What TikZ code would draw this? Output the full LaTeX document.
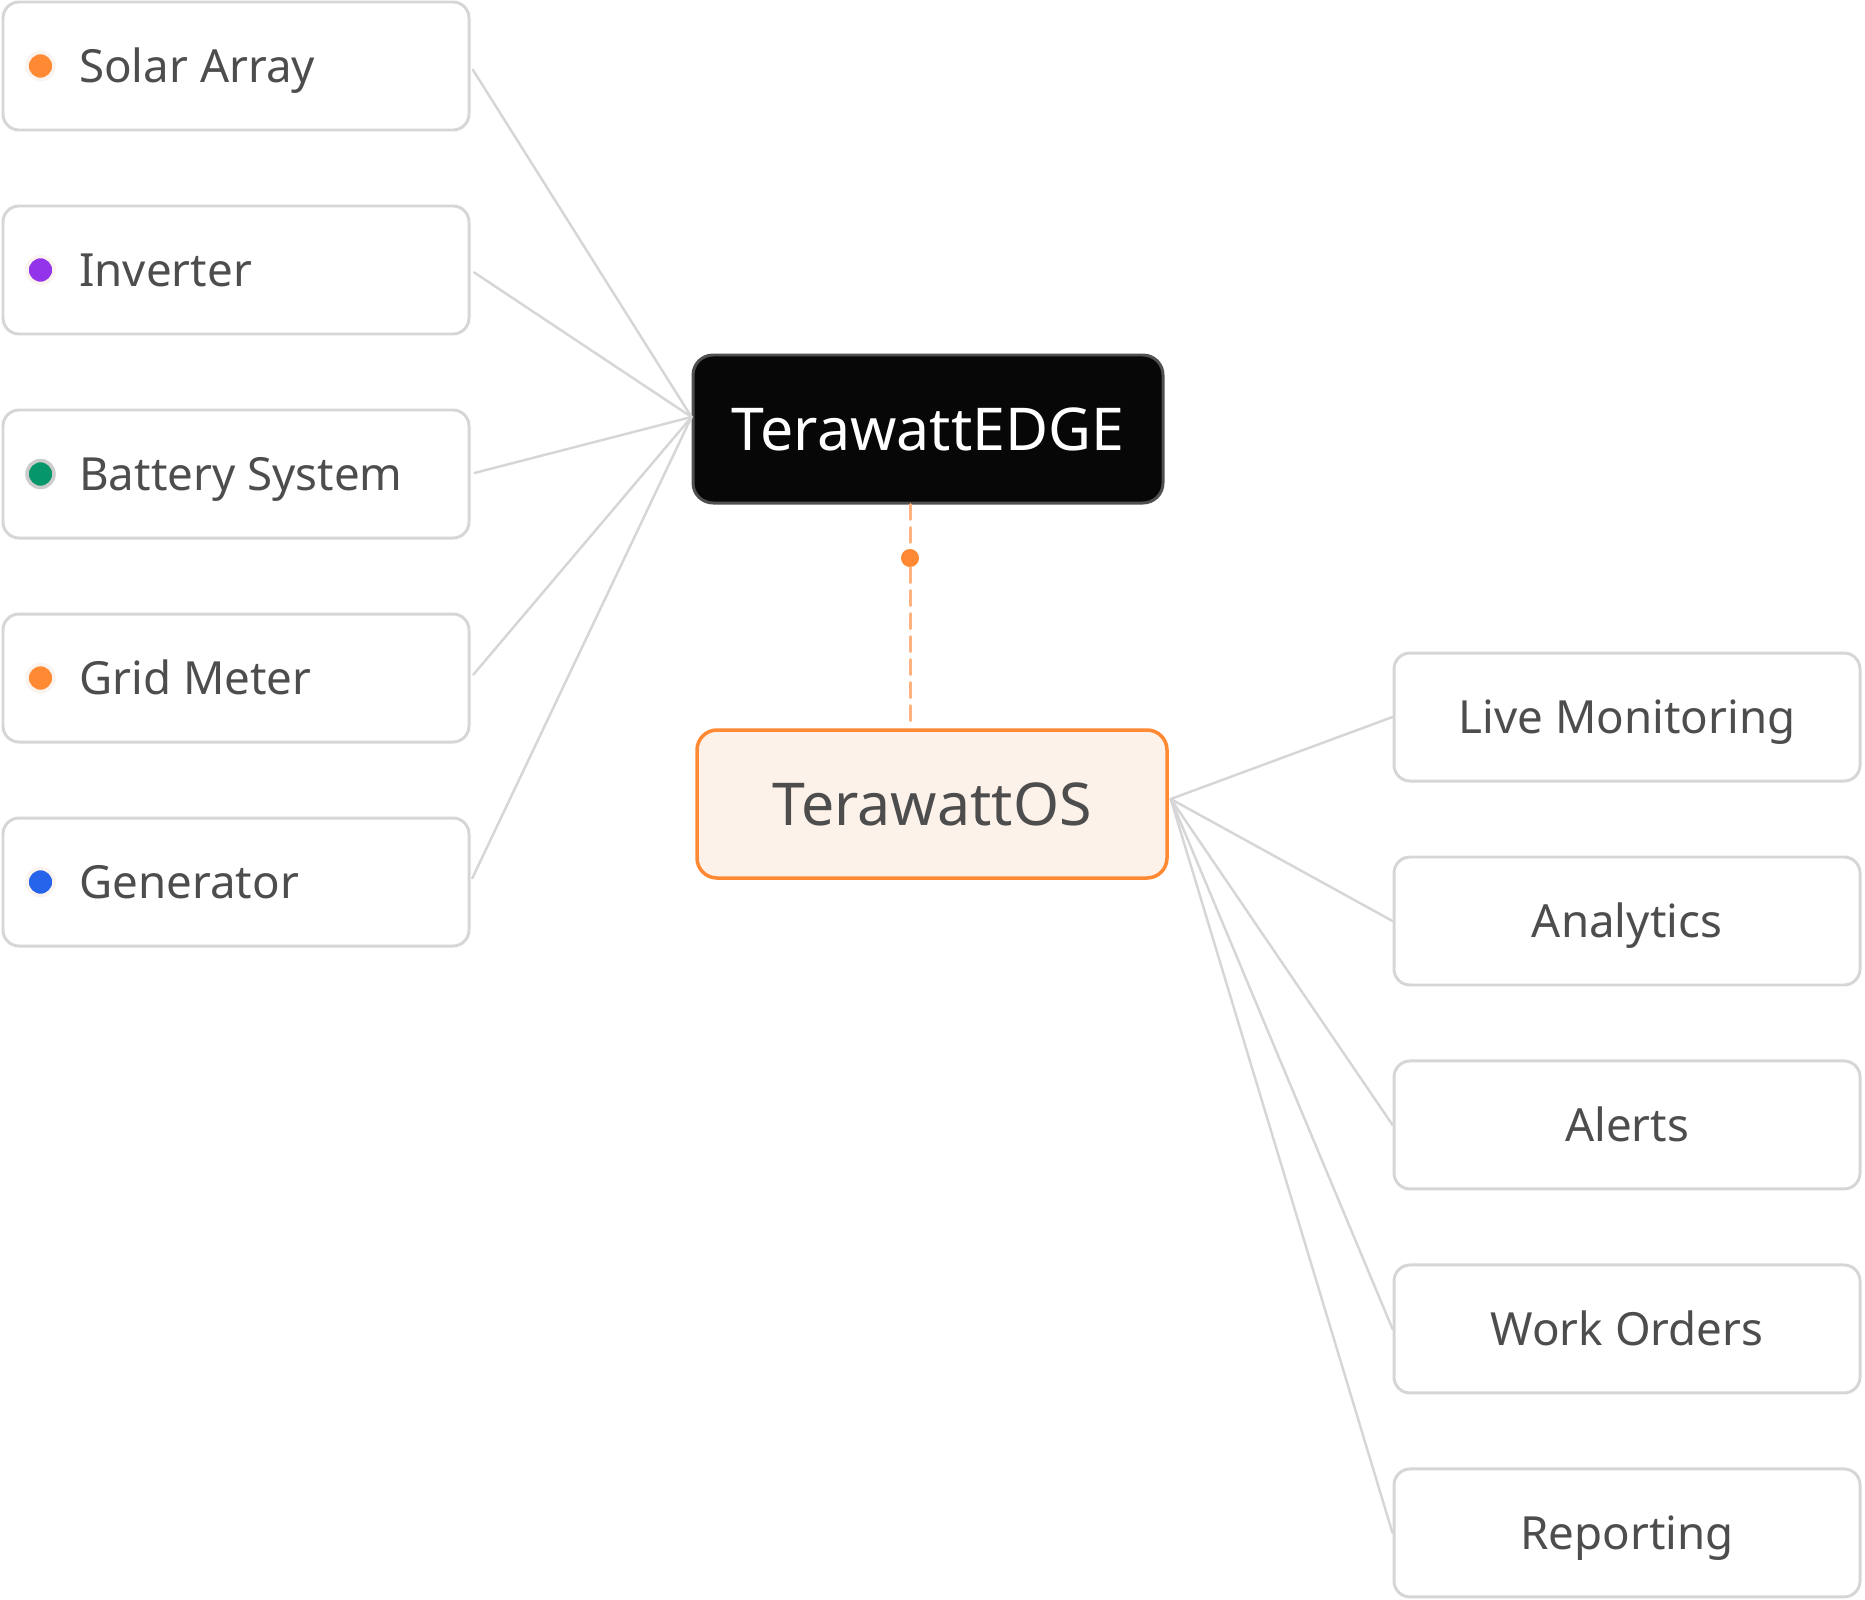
\documentclass[tikz,border=0pt]{standalone}
\usepackage{fontspec}
\setmainfont{Noto Sans}
\usetikzlibrary{positioning,calc}
\definecolor{txt}{HTML}{4D4D4D}
\definecolor{boxline}{HTML}{D6D6D6}
\definecolor{linegray}{HTML}{D6D6D6}
\definecolor{edgefill}{HTML}{070707}
\definecolor{edgeline}{HTML}{505050}
\definecolor{osfill}{HTML}{FDF2EA}
\definecolor{orange}{HTML}{FF8A33}
\definecolor{dashorange}{HTML}{FFB27F}
\definecolor{purple}{HTML}{9333EA}
\definecolor{green}{HTML}{059669}
\definecolor{blue}{HTML}{2563EB}
\definecolor{ring}{HTML}{CCCCCC}
\definecolor{faint}{HTML}{FBF3EE}
\begin{document}
\begin{tikzpicture}[line join=round, line cap=round, font=\fontsize{13}{16}\selectfont]
 \tikzset{box/.style={draw=boxline, line width=0.85pt, rounded corners=0.16cm, fill=white, minimum height=1.28cm, minimum width=4.66cm, text=txt, text height=0.44cm, text depth=0.11cm},
  link/.style={draw=linegray, line width=0.7pt},
  dot/.style={circle, fill=#1, line width=1pt, inner sep=0pt, minimum size=0.27cm},
  hubtext/.style={font=\fontsize{16.8}{20}\selectfont, rounded corners=0.2cm, line width=0.85pt, minimum width=4.7cm, minimum height=1.48cm}}
 \useasboundingbox (0,0) rectangle (18.65,-15.99);
 % centre boxes
 \node[hubtext, draw=edgeline, fill=edgefill, text=white] (edge) at (9.28,-4.29) {TerawattEDGE};
 \node[hubtext, draw=orange, fill=osfill, text=txt, line width=1pt] (os) at (9.32,-8.04) {TerawattOS};
 \coordinate (edgein) at ($(edge.west)+(0,0.12)$);
 \coordinate (osout) at ($(os.east)+(0.02,0.05)$);
 \node[circle, fill=orange, inner sep=0pt, minimum size=0.18cm] (hub) at (9.10,-5.58) {};
 \draw[dashorange, line width=0.85pt, dash pattern=on 0.15cm off 0.08cm] (edge.south -| hub) -- (hub) -- (os.north -| hub);
 % field devices
 \foreach \name/\col/\rim [count=\i from 0] in {Solar Array/orange/faint, Inverter/purple/faint, Battery System/green/ring, Grid Meter/orange/faint, Generator/blue/faint}{
  \node[box] (src\i) at (2.36,{-0.66-2.04*\i}) {};
  \node[dot=\col, draw=\rim] (dot\i) at ($(src\i.west)+(0.39,0)$) {};
  \node[anchor=west, text=txt, inner sep=0pt, text height=0.44cm, text depth=0.11cm] (lbl\i) at ($(src\i.west)+(0.77,0)$) {\name};
  \draw[link, shorten <=1.2pt] (src\i.east) -- (edgein);
 }
 % platform modules
 \node[box] (app0) at (16.27,-7.17) {Live Monitoring};
 \node[box, below=0.73cm of app0] (app1) {Analytics};
 \node[box, below=0.73cm of app1] (app2) {Alerts};
 \node[box, below=0.73cm of app2] (app3) {Work Orders};
 \node[box, below=0.73cm of app3] (app4) {Reporting};
 \foreach \i in {0,...,4} \draw[link] (osout) -- (app\i.west);
\end{tikzpicture}
\end{document}
